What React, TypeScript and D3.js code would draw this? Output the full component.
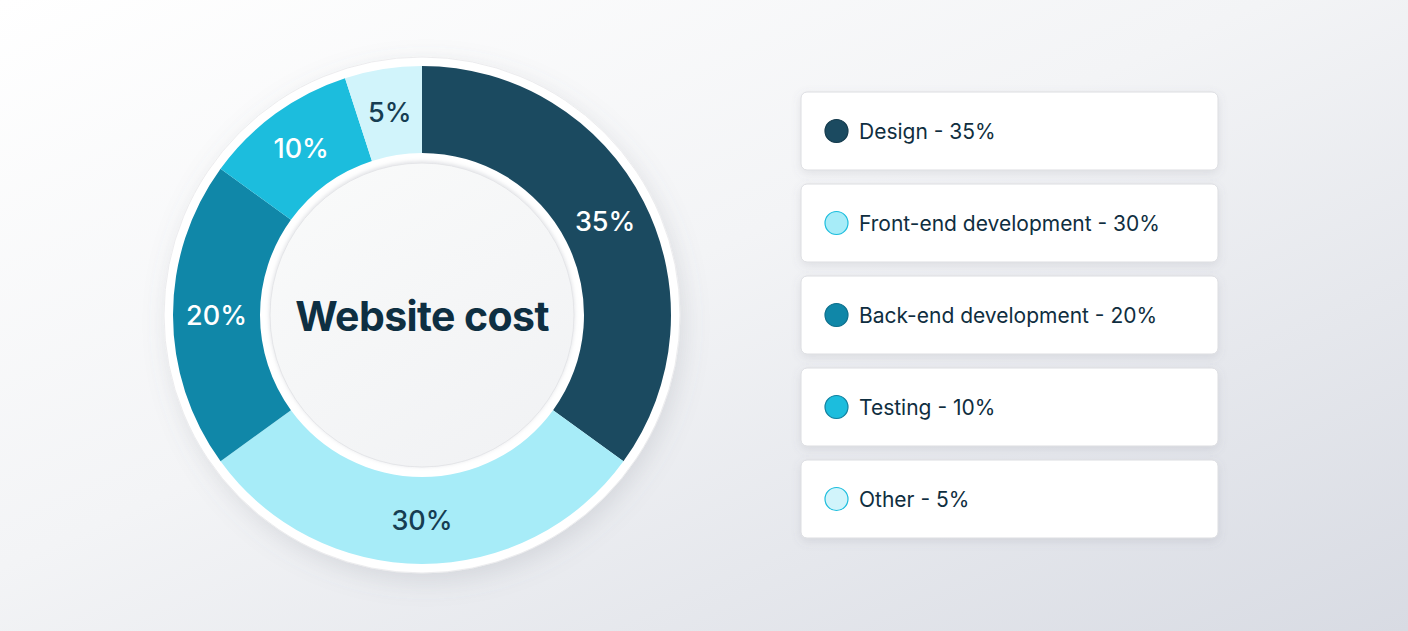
import React from "react";
import * as d3 from "d3";

const categories = ["Design", "Front-end development", "Back-end development", "Testing", "Other"];
const shares = [35, 30, 20, 10, 5];
const sliceColors = ["#1b4a60", "#a7ecf8", "#1087a8", "#1cbddd", "#d1f4fb"];
const dotStrokes = ["#143a4c", "#1cbddd", "#0d6f8c", "#11809f", "#1cbddd"];
const labelColors = ["#ffffff", "#163d52", "#ffffff", "#ffffff", "#163d52"];

const W = 1408;
const H = 631;
const FONT = "Inter, 'Noto Sans', sans-serif";
const TEXT = "#0f2e40";

interface Slice {
  name: string;
  value: number;
}

const data: Slice[] = categories.map((name, i) => ({ name, value: shares[i] }));

const App: React.FC = () => {
  const cx = 422;
  const cy = 315;
  const outer = 249;
  const inner = 162;

  const pie = d3.pie<Slice>().value((d) => d.value).sort(null);
  const arcs = pie(data);
  const arc = d3.arc<d3.PieArcDatum<Slice>>().innerRadius(inner).outerRadius(outer);
  const color = d3.scaleOrdinal<string, string>().domain(categories).range(sliceColors);

  // legend rows: 78px cards, 92px apart
  const rowY = d3.scaleBand<string>().domain(categories).range([92, 538]).paddingInner(14 / 92);

  return (
    <div style={{ position: "fixed", left: 0, top: 0, width: W, height: H }}>
      <svg width={W} height={H} style={{ display: "block" }}>
        <defs>
          <linearGradient id="bg" x1="0" y1="0" x2="1" y2="1">
            <stop offset="0%" stopColor="#ffffff" />
            <stop offset="45%" stopColor="#f3f4f6" />
            <stop offset="100%" stopColor="#d8dbe3" />
          </linearGradient>
          <linearGradient id="hole" x1="0.2" y1="0" x2="0.8" y2="1">
            <stop offset="0%" stopColor="#f9fafa" />
            <stop offset="100%" stopColor="#f1f2f4" />
          </linearGradient>
          <filter id="ringShadow" x="-20%" y="-20%" width="140%" height="140%">
            <feDropShadow dx="4" dy="8" stdDeviation="12" floodColor="#6b7280" floodOpacity="0.18" />
          </filter>
          <filter id="cardShadow" x="-10%" y="-30%" width="120%" height="160%">
            <feDropShadow dx="0" dy="3" stdDeviation="5" floodColor="#6b7280" floodOpacity="0.15" />
          </filter>
          <filter id="holeShadow" x="-10%" y="-10%" width="120%" height="120%">
            <feDropShadow dx="0" dy="-1" stdDeviation="2" floodColor="#9ca3af" floodOpacity="0.35" />
          </filter>
        </defs>
        <rect width={W} height={H} fill="url(#bg)" />

        <g transform={`translate(${cx},${cy})`}>
          <circle r={258} fill="#ffffff" stroke="#ececee" strokeWidth={1} filter="url(#ringShadow)" />
          {arcs.map((a) => (
            <path key={a.data.name} d={arc(a) || ""} fill={color(a.data.name)} />
          ))}
          <circle r={152} fill="url(#hole)" stroke="#e4e5e8" strokeWidth={1} filter="url(#holeShadow)" />
          {arcs.map((a, i) => {
            const [x, y] = arc.centroid(a);
            return (
              <text
                key={a.data.name + "-l"}
                x={x}
                y={y}
                dy="0.36em"
                textAnchor="middle"
                fontFamily={FONT}
                fontSize={27}
                fontWeight={500}
                fill={labelColors[i]}
              >
                {`${a.data.value}%`}
              </text>
            );
          })}
          <text
            y={16}
            textAnchor="middle"
            fontFamily={FONT}
            fontSize={41}
            fontWeight={700}
            letterSpacing={-0.6}
            fill="#0e2f42"
          >
            Website cost
          </text>
        </g>

        {data.map((d, i) => {
          const y0 = rowY(d.name) || 0;
          const h = rowY.bandwidth();
          return (
            <g key={d.name + "-card"}>
              <rect
                x={801}
                y={y0}
                width={417}
                height={h}
                rx={6}
                fill="#ffffff"
                stroke="#dcdde1"
                strokeWidth={1}
                filter="url(#cardShadow)"
              />
              <circle cx={836.5} cy={y0 + h / 2} r={11.5} fill={sliceColors[i]} stroke={dotStrokes[i]} strokeWidth={1.2} />
              <text x={859} y={y0 + h / 2 + 8} fontFamily={FONT} fontSize={21} fill={TEXT}>
                {`${d.name} - ${d.value}%`}
              </text>
            </g>
          );
        })}
      </svg>
    </div>
  );
};

export default App;
